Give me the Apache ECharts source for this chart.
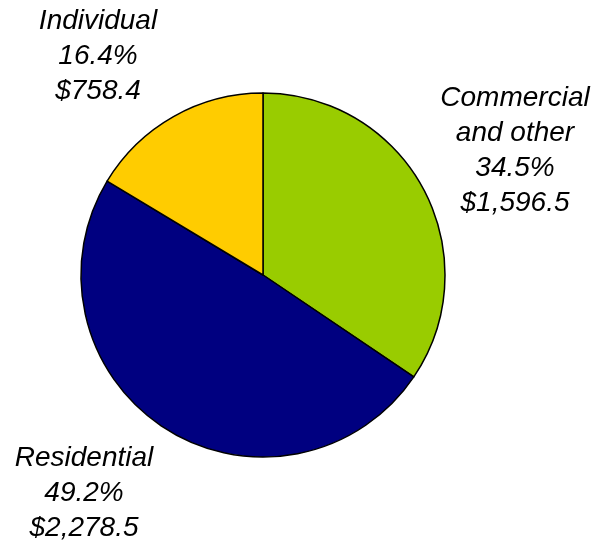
<!DOCTYPE html>
<html>
<head>
<meta charset="utf-8">
<script src="https://cdn.jsdelivr.net/npm/echarts@6/dist/echarts.min.js"></script>
<style>html,body{margin:0;padding:0;background:#fff}#c{width:595px;height:544px}</style>
</head>
<body>
<div id="c"></div>
<script>
const categories = ['Commercial\nand other', 'Residential', 'Individual'];
const values = [1596.5, 2278.5, 758.4];
const percents = ['34.5%', '49.2%', '16.4%'];
const valueLabels = ['$1,596.5', '$2,278.5', '$758.4'];
const colors = ['#99CC00', '#000080', '#FFCC00'];
const labelPos = [[515, 151], [84, 493], [98, 56]];

const chart = echarts.init(document.getElementById('c'), null, {renderer: 'canvas'});
chart.setOption({
  animation: false,
  backgroundColor: '#ffffff',
  series: [{
    type: 'pie',
    center: [263, 275],
    radius: 182,
    startAngle: 90,
    clockwise: true,
    avoidLabelOverlap: false,
    data: categories.map((c, i) => ({name: c, value: values[i], itemStyle: {color: colors[i]}})),
    itemStyle: {borderColor: '#000000', borderWidth: 1.5},
    label: {
      show: true,
      position: 'outside',
      formatter: p => categories[p.dataIndex] + '\n' + percents[p.dataIndex] + '\n' + valueLabels[p.dataIndex],
      fontFamily: '"Liberation Sans", Arial, sans-serif',
      fontStyle: 'italic',
      fontSize: 28,
      lineHeight: 35,
      color: '#000000',
      align: 'center'
    },
    labelLine: {show: false},
    labelLayout: p => ({x: labelPos[p.dataIndex][0], y: labelPos[p.dataIndex][1], align: 'center', verticalAlign: 'middle'}),
    emphasis: {disabled: true}
  }]
});
</script>
</body>
</html>
